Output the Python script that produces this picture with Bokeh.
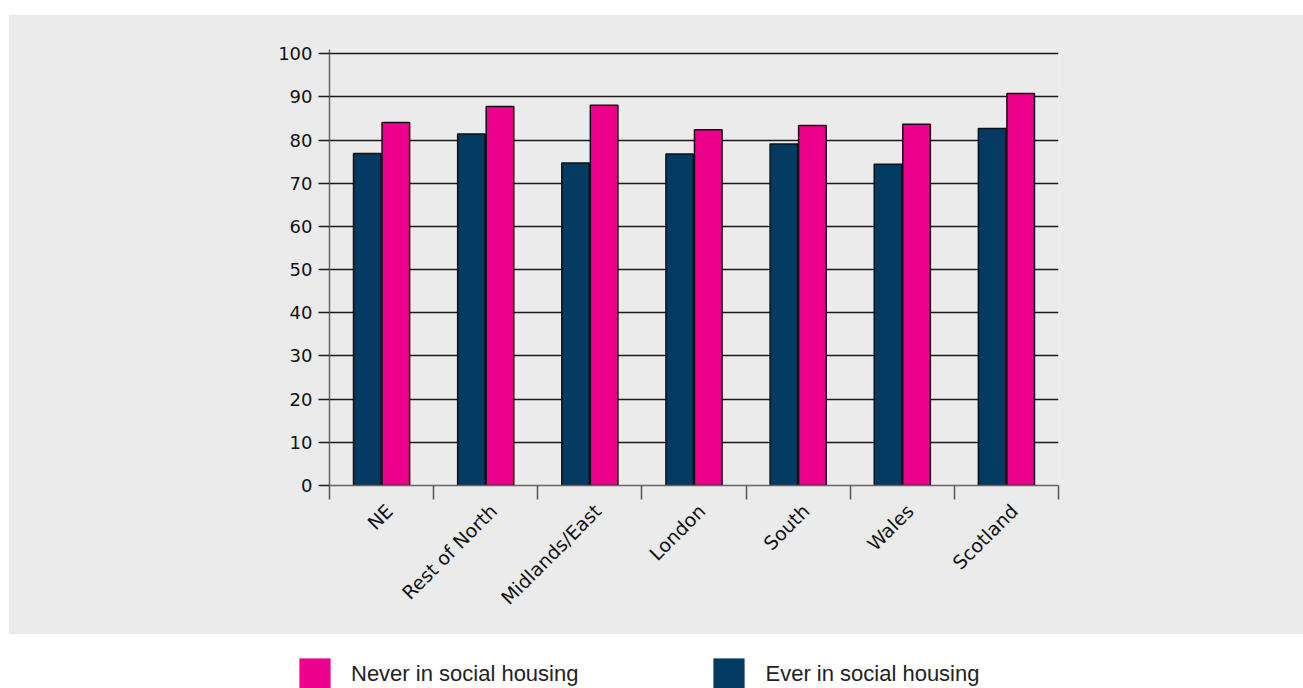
from math import pi
from bokeh.plotting import figure
from bokeh.models import (ColumnDataSource, Range1d, FixedTicker, LinearAxis,
                          Legend, LegendItem, Spacer)
from bokeh.layouts import column, row
from bokeh.transform import dodge
from bokeh.embed import file_html
from bokeh.resources import INLINE

# ---- data ----
regions = ["NE", "Rest of North", "Midlands/East", "London", "South", "Wales", "Scotland"]
ever_social = [76.9, 81.4, 74.7, 76.8, 79.1, 74.4, 82.7]
never_social = [84.1, 87.8, 88.1, 82.4, 83.4, 83.7, 90.8]
y_ticks = [0, 10, 20, 30, 40, 50, 60, 70, 80, 90, 100]
series_labels = ["Never in social housing", "Ever in social housing"]

GREY = "#ebebeb"
NAVY = "#023a62"
PINK = "#ec008c"
FONT = "DejaVu Sans"

n = len(regions)
centers = [i + 0.5 for i in range(n)]
boundaries = list(range(n + 1))
label_pos = [c + 0.075 for c in centers]   # rotated labels end a little right of centre

src = ColumnDataSource(dict(pos=centers, ever=ever_social, never=never_social, region=regions))

W = 1295
p = figure(width=W, height=620,
           x_range=Range1d(0, n), y_range=Range1d(0, 101),
           output_backend="svg", toolbar_location=None,
           min_border_left=321, min_border_right=245,
           min_border_top=35, min_border_bottom=149,
           background_fill_color=GREY, border_fill_color=GREY,
           outline_line_color=None)

p.vbar(x=dodge("pos", -0.137), top="ever", width=0.265, source=src,
       fill_color=NAVY, line_color="#111111", line_width=1.5)
p.vbar(x=dodge("pos", 0.137), top="never", width=0.265, source=src,
       fill_color=PINK, line_color="#111111", line_width=1.5)

# grid
p.xgrid.grid_line_color = None
p.ygrid.ticker = FixedTicker(ticks=y_ticks)
p.ygrid.grid_line_color = "#1a1a1a"
p.ygrid.grid_line_width = 1.5

# y axis
p.yaxis.ticker = FixedTicker(ticks=y_ticks)
p.yaxis.axis_line_color = "#666666"
p.yaxis.axis_line_width = 1.5
p.yaxis.major_tick_line_color = "#1a1a1a"
p.yaxis.major_tick_line_width = 1.5
p.yaxis.major_tick_out = 11
p.yaxis.major_tick_in = 0
p.yaxis.minor_tick_line_color = None
p.yaxis.major_label_standoff = 6
p.yaxis.major_label_text_font = FONT
p.yaxis.major_label_text_font_size = "18px"
p.yaxis.major_label_text_color = "#111111"

# x axis: ticks at category boundaries, no labels
p.xaxis.ticker = FixedTicker(ticks=boundaries)
p.xaxis.axis_line_color = "#666666"
p.xaxis.axis_line_width = 1.5
p.xaxis.major_tick_line_color = "#555555"
p.xaxis.major_tick_line_width = 1.5
p.xaxis.major_tick_out = 14
p.xaxis.major_tick_in = 0
p.xaxis.minor_tick_line_color = None
p.xaxis.major_label_overrides = {b: "" for b in boundaries}
p.xaxis.major_label_text_font_size = "1px"
p.xaxis.major_label_standoff = 0

# x axis: category labels
ax2 = LinearAxis(ticker=FixedTicker(ticks=label_pos),
                 major_label_overrides={c: r for c, r in zip(label_pos, regions)},
                 axis_line_color=None, major_tick_line_color=None,
                 minor_tick_line_color=None,
                 major_label_orientation=pi / 4,
                 major_label_standoff=2,
                 major_label_text_font=FONT,
                 major_label_text_font_size="19px",
                 major_label_text_color="#111111")
p.add_layout(ax2, "below")

# ---- legend strip (white, below the grey panel) ----
lg = figure(width=W, height=54, output_backend="svg", toolbar_location=None,
            x_range=Range1d(0, n), y_range=Range1d(500, 501),
            x_axis_location=None, y_axis_location=None,
            min_border=0, frame_align=False,
            outline_line_color=None,
            background_fill_color="white", border_fill_color="white")
lg.grid.visible = False
# same data, drawn outside this strip's visible range: only their legend swatches show
g_never = lg.vbar(x="pos", top="never", width=0.265, source=src,
                  fill_color=PINK, line_color=None)
g_ever = lg.vbar(x="pos", top="ever", width=0.265, source=src,
                 fill_color=NAVY, line_color=None)
legend = Legend(items=[LegendItem(label=series_labels[0], renderers=[g_never]),
                       LegendItem(label=series_labels[1], renderers=[g_ever])],
                orientation="horizontal", location=(287, -10),
                glyph_width=39, glyph_height=39, label_standoff=17,
                label_height=49,
                spacing=131, padding=0, margin=0,
                border_line_color=None, background_fill_alpha=0,
                label_text_font="Liberation Sans", label_text_font_size="22px",
                label_text_color="#222222")
lg.add_layout(legend, "center")

layout = row(Spacer(width=8, height=688),
             column(Spacer(width=W, height=14), p, lg, spacing=0),
             spacing=0)

open("out.html", "w").write(file_html(layout, INLINE))
